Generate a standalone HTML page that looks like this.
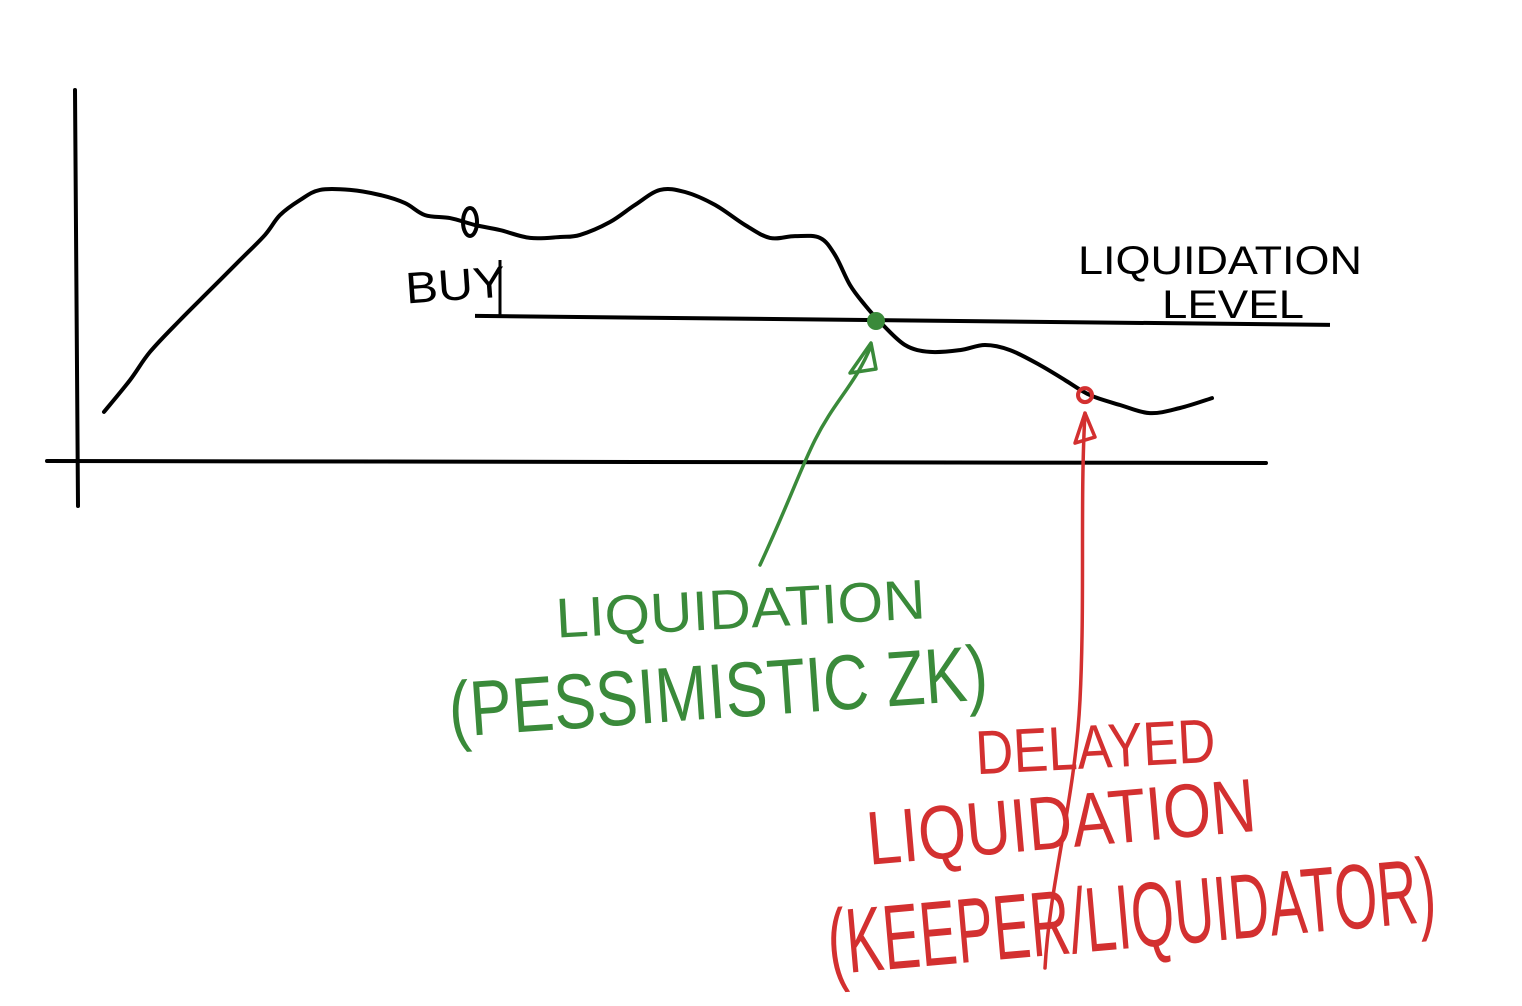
<!DOCTYPE html>
<html><head><meta charset="utf-8"><style>
html,body{margin:0;padding:0;background:#fff;}
svg{display:block;}
text{font-family:"Liberation Sans",sans-serif;font-weight:normal;}
</style></head><body>
<svg id="chart" width="1522" height="1006" viewBox="0 0 1522 1006" xmlns="http://www.w3.org/2000/svg">
<line x1="75" y1="90" x2="78" y2="506" stroke="#000" stroke-width="4" stroke-linecap="round"/>
<line x1="47" y1="461" x2="1266" y2="463" stroke="#000" stroke-width="4" stroke-linecap="round"/>
<g id="marks"></g>
<text x="1078" y="274" font-size="40" textLength="284" lengthAdjust="spacingAndGlyphs" fill="#000">LIQUIDATION</text>
<text x="1162" y="318" font-size="40" textLength="142" lengthAdjust="spacingAndGlyphs" fill="#000">LEVEL</text>
<text x="405" y="300" font-size="44" textLength="100" lengthAdjust="spacingAndGlyphs" fill="#000" transform="rotate(-4 455 280)">BUY</text>
<text x="555" y="628" font-size="56" textLength="370" lengthAdjust="spacingAndGlyphs" fill="#3a8a3a" transform="rotate(-3 740 600)">LIQUIDATION</text>
<text x="448" y="718" font-size="78" textLength="540" lengthAdjust="spacingAndGlyphs" fill="#3a8a3a" transform="rotate(-4 720 690)">(PESSIMISTIC ZK)</text>
<text x="975" y="768" font-size="62" textLength="240" lengthAdjust="spacingAndGlyphs" fill="#d33030" transform="rotate(-3 1095 740)">DELAYED</text>
<text x="865" y="848" font-size="76" textLength="390" lengthAdjust="spacingAndGlyphs" fill="#d33030" transform="rotate(-5 1060 810)">LIQUIDATION</text>
<text x="825" y="948" font-size="92" textLength="610" lengthAdjust="spacingAndGlyphs" fill="#d33030" transform="rotate(-5 1130 900)">(KEEPER/LIQUIDATOR)</text>
</svg>
<script>
const times=[2.9,5.5,7.5,10.5,13.5,16.5,19,20.5,22.5,24.5,27.5,30.5,33,35,37.5,40,42.5,45.5,48.5,50.5,53.5,56,58.5,61,64,67,69.5,72,74.5,76,77.5,79,80.5,83,85.5,88.5,91,93.5,96.5,99,101.5,104.5,107.5,110.5,113.7];
const prices=[16.7,27.3,36.7,47.3,57.3,67.3,75.7,82.3,87.3,90.7,90.7,89,86.3,82.3,81.3,79,77.3,74.7,75,75.7,80,85.7,90.7,90,85.7,79,74.7,75.3,74.7,69,59,52.3,46.7,39,36.7,37.3,39,37.3,32.3,27.3,22.3,19,16.3,18,21.3];
const levelTimes=[40,125.5];
const levelPrices=[48.7,45.7];
const buyTime=39.5, buyPrice=78;
const zkLiqTime=80.1, zkLiqPrice=47;
const delayedLiqTime=101, delayedLiqPrice=22.3;
function xs(t){return 75+t*10;}
function ys(p){return 462-p*3;}
const NS="http://www.w3.org/2000/svg";
const g=document.getElementById('marks');
function mk(tag,attrs){const e=document.createElementNS(NS,tag);for(const k in attrs)e.setAttribute(k,attrs[k]);g.appendChild(e);return e;}
// price curve (smoothed catmull-rom)
const P=times.map((t,i)=>[xs(t),ys(prices[i])]);
let d="M"+P[0][0]+","+P[0][1];
for(let i=0;i<P.length-1;i++){
  const p0=P[Math.max(i-1,0)],p1=P[i],p2=P[i+1],p3=P[Math.min(i+2,P.length-1)];
  const c1=[p1[0]+(p2[0]-p0[0])/6,p1[1]+(p2[1]-p0[1])/6];
  const c2=[p2[0]-(p3[0]-p1[0])/6,p2[1]-(p3[1]-p1[1])/6];
  d+=`C${c1[0]},${c1[1]} ${c2[0]},${c2[1]} ${p2[0]},${p2[1]}`;
}
const curve=mk('path',{d:d,fill:"none",stroke:"#000","stroke-width":4,"stroke-linejoin":"round","stroke-linecap":"round"});


const lvl=mk('line',{x1:xs(levelTimes[0]),y1:ys(levelPrices[0]),x2:xs(levelTimes[1]),y2:ys(levelPrices[1]),stroke:"#000","stroke-width":4});


const bm=mk('ellipse',{cx:xs(buyTime),cy:ys(buyPrice)-6,rx:7,ry:14,fill:"none",stroke:"#000","stroke-width":4});


const bt=mk('line',{x1:xs(buyTime)+30,y1:260,x2:xs(buyTime)+30,y2:ys(levelPrices[0]),stroke:"#000","stroke-width":3});


const gx=xs(zkLiqTime), gy=ys(zkLiqPrice);
const gp=mk('circle',{cx:gx,cy:gy,r:9,fill:"#3a8a3a"});


const ga=mk('path',{d:`M760,565 C790,500 800,470 815,440 C835,400 855,385 ${gx-5},${gy+25}`,fill:"none",stroke:"#3a8a3a","stroke-width":3.5,"stroke-linecap":"round"});


const gh=mk('path',{d:`M${gx-26},${gy+52} L${gx-5},${gy+22} L${gx},${gy+48} Z`,fill:"none",stroke:"#3a8a3a","stroke-width":3.5,"stroke-linejoin":"round"});


const rx=xs(delayedLiqTime), ry=ys(delayedLiqPrice);
const rp=mk('circle',{cx:rx,cy:ry,r:7,fill:"none",stroke:"#d33030","stroke-width":4});


const ra=mk('path',{d:`M1045,968 C1050,880 1075,800 1080,700 C1085,600 1080,500 ${rx},${ry+18}`,fill:"none",stroke:"#d33030","stroke-width":3.5,"stroke-linecap":"round"});


const rh=mk('path',{d:`M${rx-10},${ry+48} L${rx},${ry+18} L${rx+10},${ry+42} Z`,fill:"none",stroke:"#d33030","stroke-width":3.5,"stroke-linejoin":"round"});


</script>
</body></html>
